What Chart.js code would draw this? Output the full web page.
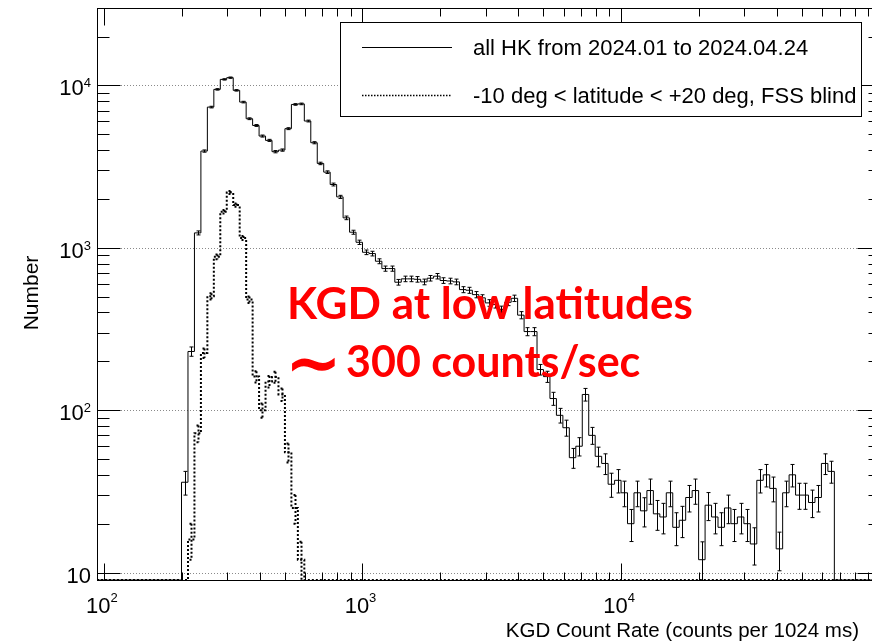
<!DOCTYPE html>
<html>
<head>
<meta charset="utf-8">
<script src="https://cdn.jsdelivr.net/npm/chart.js@4/dist/chart.umd.min.js"></script>
<style>
  html, body { margin: 0; padding: 0; background: #fff; overflow: hidden; }
  #wrap { position: relative; width: 872px; height: 643px; overflow: hidden; }
  #kgd { position: absolute; left: 0; top: 0; }
</style>
</head>
<body>
<div id="wrap"><canvas id="kgd" width="900" height="643"></canvas></div>
<script>
// log binning of the histograms: 40 bins per decade, first edge at 10^2.3
const firstEdgeLog = 2.3;
const binsPerDecade = 40;

// counts per bin, all housekeeping data
const allHK = [
  36, 230, 1236, 3945, 7360, 9460, 10900, 11170, 9330, 7900,
  6240, 5670, 4880, 4590, 3910, 4000, 5420, 7640, 7700, 6040,
  4440, 3310, 2925, 2455, 2060, 1530, 1248, 1082, 939, 922,
  827, 745, 745, 614, 644, 644, 640, 617, 650, 669,
  629, 625, 617, 553, 548, 515, 492, 458, 447, 417,
  462, 489, 385, 305, 305, 178, 161, 118, 93, 78,
  51, 60, 125, 70, 52, 47, 35, 37, 31, 20,
  31, 24, 32, 23, 22, 31, 19, 21, 29, 32,
  12, 26, 22, 19, 25, 20, 22, 20, 15, 37,
  40, 33, 14, 31, 40, 30, 30, 27, 29, 47,
  42
];
// counts per bin, low latitude band with the FSS blind
const lowLat = [
  0, 16, 72, 225, 503, 880, 1670, 2190, 1833, 1150,
  480, 161, 100, 150, 160, 125, 55, 25, 12
];

const xRange = [94, 100000];
const yRange = [9, 30000];
const xTickValues = [100, 1000, 10000];
const yTickValues = [10, 100, 1000, 10000];
const seriesLabels = ['all HK from 2024.01 to 2024.04.24', '-10 deg < latitude < +20 deg, FSS blind'];
const xTitle = 'KGD Count Rate (counts per 1024 ms)';
const yTitle = 'Number';
const noteLines = ['KGD at low latitudes', '\u223C', '300 counts/sec'];

const axisFont = '"Liberation Sans", Arial, Helvetica, sans-serif';
const noteFont = 'Lato, "Open Sans", sans-serif';
const lowDash = [2, 2];

const edge = k => 10 ** (firstEdgeLog + k / binsPerDecade);
const centre = k => 10 ** (firstEdgeLog + (k + 0.5) / binsPerDecade);

// histogram outline: one point per right bin edge, drawn with stepped 'after'.
// The log axis skips zeros, so empty bins sit on the frame bottom instead.
function stepPoints(counts) {
  const floor = yRange[0];
  const pts = [{ x: xRange[0], y: floor }, { x: edge(0), y: floor }];
  counts.forEach((c, k) => pts.push({ x: edge(k + 1), y: c > 0 ? c : floor }));
  pts.push({ x: xRange[1], y: floor });
  return pts;
}

// every 1..9 x 10^n inside the range
function logTicks(lo, hi) {
  const out = [];
  for (let d = 0; d <= 5; d++) {
    for (let m = 1; m <= 9; m++) {
      const v = m * 10 ** d;
      if (v >= lo && v <= hi) out.push({ v, major: m === 1 });
    }
  }
  return out;
}

function drawErrors(chart, counts, width, dash) {
  const { ctx, chartArea: a, scales: { x, y } } = chart;
  ctx.save();
  ctx.beginPath();
  ctx.rect(a.left, a.top, a.right - a.left, a.bottom - a.top);
  ctx.clip();
  ctx.strokeStyle = '#000';
  ctx.lineWidth = width;
  ctx.setLineDash(dash);
  counts.forEach((c, k) => {
    if (!c) return;
    const px = Math.round(x.getPixelForValue(centre(k))) + 0.5;
    const err = Math.sqrt(c); // Poisson error on the bin content
    const top = y.getPixelForValue(c + err);
    const bottom = c - err > 0 ? y.getPixelForValue(c - err) : a.bottom;
    ctx.beginPath();
    ctx.moveTo(px, top); ctx.lineTo(px, bottom);
    ctx.moveTo(px - 2, top); ctx.lineTo(px + 2, top);
    ctx.moveTo(px - 2, bottom); ctx.lineTo(px + 2, bottom);
    ctx.stroke();
  });
  ctx.restore();
}

const rootFrame = {
  id: 'rootFrame',
  beforeDatasetsDraw(chart) {
    const { ctx, chartArea: a, scales: { y } } = chart;
    ctx.save();
    ctx.strokeStyle = '#8a8a8a';
    ctx.lineWidth = 1;
    ctx.setLineDash([1, 2]);
    yTickValues.forEach(v => {
      const py = Math.round(y.getPixelForValue(v)) + 0.5;
      ctx.beginPath();
      ctx.moveTo(a.left, py);
      ctx.lineTo(a.right, py);
      ctx.stroke();
    });
    ctx.restore();
  },
  afterDatasetsDraw(chart) {
    const { ctx, chartArea: a, scales: { x, y } } = chart;

    drawErrors(chart, allHK, 1, []);
    drawErrors(chart, lowLat, 2, lowDash);

    ctx.save();
    ctx.strokeStyle = '#000';
    ctx.lineWidth = 1;
    const L = Math.round(a.left) + 0.5, R = Math.round(a.right) + 0.5;
    const T = Math.round(a.top) + 0.5, B = Math.round(a.bottom) + 0.5;
    ctx.strokeRect(L, T, R - L, B - T);

    // inward ticks on all four sides
    ctx.beginPath();
    logTicks(yRange[0], yRange[1]).forEach(t => {
      const py = Math.round(y.getPixelForValue(t.v)) + 0.5;
      const len = t.major ? 23 : 12;
      ctx.moveTo(L, py); ctx.lineTo(L + len, py);
      ctx.moveTo(R, py); ctx.lineTo(R - len, py);
    });
    logTicks(xRange[0], xRange[1]).forEach(t => {
      const px = Math.round(x.getPixelForValue(t.v)) + 0.5;
      const len = t.major ? 17 : 8;
      ctx.moveTo(px, B); ctx.lineTo(px, B - len);
      ctx.moveTo(px, T); ctx.lineTo(px, T + len);
    });
    ctx.stroke();

    // tick labels, 10 with a raised exponent
    ctx.fillStyle = '#000';
    ctx.textAlign = 'left';
    ctx.textBaseline = 'alphabetic';
    yTickValues.forEach(v => {
      const py = y.getPixelForValue(v);
      const exp = Math.round(Math.log10(v));
      ctx.font = `13px ${axisFont}`;
      const sup = exp > 1 ? String(exp) : '';
      const supW = sup ? ctx.measureText(sup).width : 0;
      ctx.font = `22px ${axisFont}`;
      const mainW = ctx.measureText('10').width;
      const x0 = a.left - 6 - supW - mainW;
      ctx.fillText('10', x0, py + 10);
      if (sup) {
        ctx.font = `13px ${axisFont}`;
        ctx.fillText(sup, x0 + mainW, py + 2);
      }
    });
    xTickValues.forEach(v => {
      const px = x.getPixelForValue(v);
      const sup = String(Math.round(Math.log10(v)));
      ctx.font = `13px ${axisFont}`;
      const supW = ctx.measureText(sup).width;
      ctx.font = `22px ${axisFont}`;
      const mainW = ctx.measureText('10').width;
      const x0 = px - (mainW + supW) / 2 - 2;
      ctx.fillText('10', x0, a.bottom + 33);
      ctx.font = `13px ${axisFont}`;
      ctx.fillText(sup, x0 + mainW, a.bottom + 22);
    });

    // axis titles
    ctx.font = `20.5px ${axisFont}`;
    ctx.textAlign = 'right';
    ctx.fillText(xTitle, 859, 637);
    ctx.save();
    ctx.translate(38, 293);
    ctx.rotate(-Math.PI / 2);
    ctx.textAlign = 'center';
    ctx.font = `21px ${axisFont}`;
    ctx.fillText(yTitle, 0, 0);
    ctx.restore();

    // legend box
    ctx.fillStyle = '#fff';
    ctx.fillRect(340.5, 22.5, 521, 94);
    ctx.strokeRect(340.5, 22.5, 521, 94);
    ctx.beginPath();
    ctx.moveTo(362, 47.5); ctx.lineTo(452, 47.5);
    ctx.stroke();
    ctx.save();
    ctx.lineWidth = 1.5;
    ctx.setLineDash([1.5, 1.5]);
    ctx.beginPath();
    ctx.moveTo(362, 95.5); ctx.lineTo(452, 95.5);
    ctx.stroke();
    ctx.restore();
    ctx.fillStyle = '#000';
    ctx.textAlign = 'left';
    ctx.font = `22px ${axisFont}`;
    ctx.fillText(seriesLabels[0], 473, 55);
    ctx.fillText(seriesLabels[1], 473, 103);

    // red note over the plot
    ctx.fillStyle = '#ff0000';
    ctx.font = `bold 44px ${noteFont}`;
    ctx.fillText(noteLines[0], 287, 319);
    ctx.font = `bold 68px "DejaVu Sans", sans-serif`;
    ctx.fillText(noteLines[1], 285, 386);
    ctx.font = `bold 43px ${noteFont}`;
    ctx.fillText(noteLines[2], 346, 377);
    ctx.restore();
  }
};

new Chart(document.getElementById('kgd'), {
  type: 'line',
  data: {
    datasets: [
      {
        label: seriesLabels[0],
        data: stepPoints(allHK),
        borderColor: '#000',
        borderWidth: 1,
        stepped: 'after',
        pointRadius: 0,
        fill: false
      },
      {
        label: seriesLabels[1],
        data: stepPoints(lowLat),
        borderColor: '#000',
        borderWidth: 2,
        borderDash: lowDash,
        stepped: 'after',
        pointRadius: 0,
        fill: false
      }
    ]
  },
  options: {
    responsive: false,
    animation: false,
    devicePixelRatio: 1,
    events: [],
    layout: { padding: { left: 97, top: 8, right: 20.4, bottom: 63 } },
    scales: {
      x: { type: 'logarithmic', min: xRange[0], max: xRange[1], display: false },
      y: { type: 'logarithmic', min: yRange[0], max: yRange[1], display: false }
    },
    plugins: {
      legend: { display: false },
      tooltip: { enabled: false }
    }
  },
  plugins: [rootFrame]
});
</script>
</body>
</html>
